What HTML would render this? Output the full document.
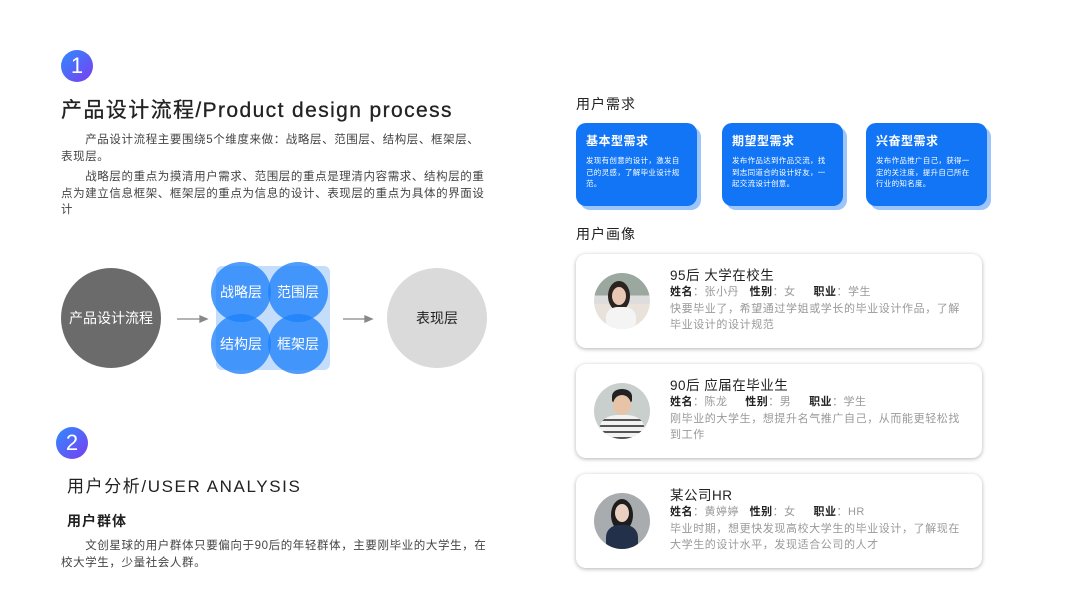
<!DOCTYPE html>
<html><head><meta charset="utf-8"><style>
*{margin:0;padding:0;box-sizing:border-box}
body{width:1067px;height:600px;background:#fff;position:relative;overflow:hidden;font-family:"Liberation Sans","Noto Sans CJK SC",sans-serif;color:#333}
.a{position:absolute;white-space:nowrap}
.badge{position:absolute;width:32px;height:32px;border-radius:50%;background:linear-gradient(135deg,#2d8cff,#7b3cf0);color:#fff;font-size:22px;text-align:center;line-height:32px}
.p{position:absolute;font-size:11.5px;line-height:16.5px;color:#444;letter-spacing:.6px;white-space:normal}
.c{position:absolute;border-radius:50%;display:flex;align-items:center;justify-content:center;font-size:14px}
.card{position:absolute;width:121px;height:83px;border-radius:10px;background:#1175f6;box-shadow:4px 4px 0 #9cc6fb;color:#fff;padding:9px 10px}
.card b{font-size:12px;display:block;margin-bottom:6px;letter-spacing:.5px}
.card span{font-size:7.5px;line-height:11.5px;display:block;letter-spacing:.3px}
.pc{position:absolute;left:576px;width:406px;height:94px;border-radius:10px;background:#fff;box-shadow:0 1px 4px rgba(0,0,0,.3)}
.av{position:absolute;left:18px;top:19px;width:56px;height:56px;border-radius:50%;overflow:hidden}
.pt{position:absolute;left:94px;top:10px;font-size:13.5px;color:#222;letter-spacing:.5px}
.pi{position:absolute;left:94px;top:29px;font-size:11px;color:#999;letter-spacing:.5px;white-space:pre}
.pi b{color:#222}
.pd{position:absolute;left:94px;top:47px;width:300px;font-size:11px;line-height:16px;color:#999;letter-spacing:.6px}
.bc{background:rgba(30,128,250,.78);color:#fff}
</style></head><body>
<div class="badge" style="left:61px;top:50px">1</div>
<div class="a" style="left:61px;top:94px;font-size:21px;letter-spacing:1.4px;color:#222;-webkit-text-stroke:.3px #222">产品设计流程/Product design process</div>
<div class="p" style="left:61px;top:132px;width:430px">　　产品设计流程主要围绕5个维度来做：战略层、范围层、结构层、框架层、表现层。</div>
<div class="p" style="left:61px;top:169px;width:430px">　　战略层的重点为摸清用户需求、范围层的重点是理清内容需求、结构层的重点为建立信息框架、框架层的重点为信息的设计、表现层的重点为具体的界面设计</div>

<div class="c" style="left:61px;top:268px;width:100px;height:100px;background:#6b6b6b;color:#fff">产品设计流程</div>
<svg class="a" style="left:170px;top:310px" width="220" height="20"><g stroke="#888" stroke-width="1.3" fill="#888"><line x1="7" y1="9" x2="32" y2="9"/><path d="M30 6 L37 9 L30 12Z"/><line x1="173" y1="9" x2="197" y2="9"/><path d="M195 6 L202 9 L195 12Z"/></g></svg>
<div class="a" style="left:216px;top:266px;width:114px;height:104px;background:#c4ddfb;border-radius:6px"></div>
<div class="c bc" style="left:211px;top:262px;width:60px;height:60px">战略层</div>
<div class="c bc" style="left:268px;top:262px;width:60px;height:60px">范围层</div>
<div class="c bc" style="left:211px;top:314px;width:60px;height:60px">结构层</div>
<div class="c bc" style="left:268px;top:314px;width:60px;height:60px">框架层</div>
<div class="c" style="left:387px;top:268px;width:100px;height:100px;background:#dadada;color:#222">表现层</div>

<div class="badge" style="left:56px;top:427px">2</div>
<div class="a" style="left:67px;top:472px;font-size:17px;letter-spacing:1.6px;color:#222">用户分析/USER ANALYSIS</div>
<div class="a" style="left:67px;top:511px;font-size:14px;font-weight:bold;color:#222;letter-spacing:1px">用户群体</div>
<div class="p" style="left:61px;top:538px;width:430px">　　文创星球的用户群体只要偏向于90后的年轻群体，主要刚毕业的大学生，在校大学生，少量社会人群。</div>

<div class="a" style="left:576px;top:94px;font-size:14px;color:#222;letter-spacing:1px">用户需求</div>
<div class="card" style="left:576px;top:123px"><b>基本型需求</b><span>发现有创意的设计，激发自己的灵感，了解毕业设计规范。</span></div>
<div class="card" style="left:722px;top:123px"><b>期望型需求</b><span>发布作品达到作品交流，找到志同道合的设计好友，一起交流设计创意。</span></div>
<div class="card" style="left:866px;top:123px"><b>兴奋型需求</b><span>发布作品推广自己，获得一定的关注度，提升自己所在行业的知名度。</span></div>
<div class="a" style="left:576px;top:224px;font-size:14px;color:#222;letter-spacing:1px">用户画像</div>

<div class="pc" style="top:254px">
<div class="av" style="background:linear-gradient(#9aa8a0 0 40%,#ddd 40% 55%,#e8e2da 55%)"><div style="position:absolute;left:14px;top:8px;width:22px;height:30px;border-radius:50%;background:#2a2320"></div><div style="position:absolute;left:18px;top:14px;width:14px;height:18px;border-radius:50%;background:#e8c8b4"></div><div style="position:absolute;left:12px;top:34px;width:30px;height:24px;border-radius:40%;background:#f4f4f4"></div></div>
<div class="pt">95后 大学在校生</div>
<div class="pi"><b>姓名</b>：张小丹   <b>性别</b>：女     <b>职业</b>：学生</div>
<div class="pd">快要毕业了，希望通过学姐或学长的毕业设计作品，了解毕业设计的设计规范</div>
</div>
<div class="pc" style="top:364px">
<div class="av" style="background:#c9cfcc"><div style="position:absolute;left:18px;top:6px;width:20px;height:14px;border-radius:50% 50% 20% 20%;background:#222"></div><div style="position:absolute;left:19px;top:12px;width:18px;height:20px;border-radius:50%;background:#e7c4a8"></div><div style="position:absolute;left:6px;top:32px;width:44px;height:30px;border-radius:40%;background:repeating-linear-gradient(#f2f2f2 0 4px,#555 4px 6px)"></div></div>
<div class="pt">90后 应届在毕业生</div>
<div class="pi"><b>姓名</b>：陈龙     <b>性别</b>：男     <b>职业</b>：学生</div>
<div class="pd">刚毕业的大学生，想提升名气推广自己，从而能更轻松找到工作</div>
</div>
<div class="pc" style="top:474px">
<div class="av" style="background:#a9acae"><div style="position:absolute;left:17px;top:6px;width:22px;height:32px;border-radius:50%;background:#1d1d1d"></div><div style="position:absolute;left:21px;top:11px;width:14px;height:18px;border-radius:50%;background:#ead0c0"></div><div style="position:absolute;left:12px;top:32px;width:32px;height:30px;border-radius:40%;background:#22304a"></div></div>
<div class="pt">某公司HR</div>
<div class="pi"><b>姓名</b>：黄婷婷   <b>性别</b>：女     <b>职业</b>：HR</div>
<div class="pd">毕业时期，想更快发现高校大学生的毕业设计，了解现在大学生的设计水平，发现适合公司的人才</div>
</div>
</body></html>
